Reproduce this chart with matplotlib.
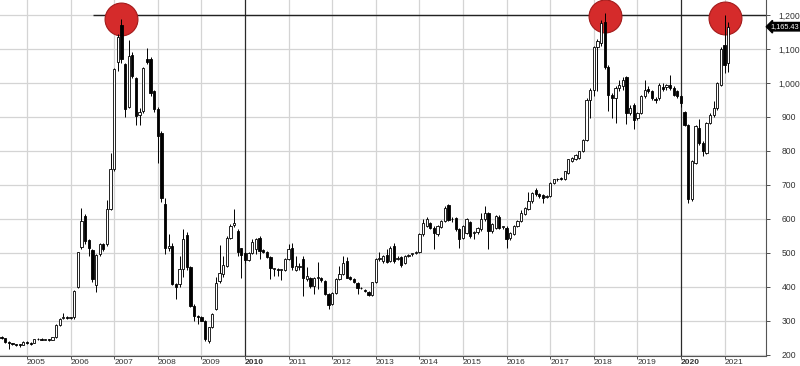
import numpy as np
import matplotlib.pyplot as plt

plt.rcParams['font.family'] = ['Liberation Sans', 'DejaVu Sans']

# Monthly candles from Jun 2004 to Feb 2021 (month index 0 = Jan 2005)
first_month = -7

opens = [
    250, 248, 237, 234, 232, 229, 230,                                  # 2004
    237, 235, 235, 245, 246, 244, 245, 243, 252, 287, 307, 310,        # 2005
    308, 310, 398, 516, 608, 538, 509, 406, 496, 527, 525, 630,        # 2006
    747, 1063, 1171, 1056, 929, 1083, 1013, 905, 916, 1070, 1070, 975, # 2007
    923, 853, 644, 515, 520, 408, 408, 452, 552, 457, 344, 315,        # 2008
    310, 300, 240, 281, 335, 418, 437, 462, 545, 582, 564, 513,        # 2009
    499, 479, 499, 510, 545, 508, 503, 489, 452, 452, 450, 450,        # 2010
    483, 515, 450, 457, 483, 423, 427, 403, 425, 427, 418, 379,        # 2011
    349, 383, 423, 437, 476, 429, 423, 411, 395, 390, 385, 376,        # 2012
    413, 481, 476, 493, 476, 520, 481, 489, 471, 491, 495, 499,        # 2013
    501, 555, 579, 589, 574, 555, 577, 594, 640, 600, 603, 569,        # 2014
    545, 559, 591, 559, 560, 569, 598, 616, 564, 574, 606, 576,        # 2015
    574, 545, 555, 579, 594, 613, 628, 652, 685, 672, 670, 665,        # 2016
    667, 706, 716, 721, 716, 735, 770, 775, 779, 799, 833, 951,        # 2017
    980, 1107, 1117, 1180, 1048, 965, 955, 985, 990, 1017, 911, 936,   # 2018
    897, 911, 960, 982, 975, 952, 955, 988, 988, 995, 985, 975,        # 2019
    962, 913, 877, 657, 765, 867, 823, 794, 882, 907, 926, 995,        # 2020
    1112, 1058,                                                         # 2021
]
highs = [
    254, 250, 239, 236, 233, 231, 239,
    240, 237, 247, 249, 248, 247, 247, 253, 289, 308, 323, 313,
    312, 390, 503, 633, 615, 542, 512, 497, 528, 530, 656, 795,
    1045, 1145, 1188, 1060, 1125, 1090, 1016, 925, 1048, 1104, 1075, 980,
    928, 858, 662, 555, 530, 412, 491, 569, 560, 460, 348, 318,
    313, 302, 283, 323, 430, 522, 490, 550, 585, 630, 570, 515,
    502, 501, 540, 545, 548, 512, 506, 492, 456, 455, 453, 485,
    525, 528, 491, 470, 490, 457, 430, 428, 472, 430, 420, 383,
    385, 425, 460, 490, 488, 432, 425, 413, 398, 392, 387, 415,
    484, 501, 493, 511, 520, 528, 490, 492, 494, 495, 500, 505,
    557, 598, 605, 592, 578, 581, 597, 638, 643, 604, 606, 572,
    582, 603, 595, 563, 575, 616, 638, 620, 588, 611, 610, 580,
    578, 560, 582, 597, 625, 636, 679, 680, 690, 676, 672, 670,
    708, 718, 721, 724, 742, 777, 782, 791, 801, 836, 955, 985,
    1110, 1130, 1185, 1205, 1052, 970, 990, 1010, 1017, 1020, 935, 940,
    915, 963, 1009, 990, 978, 958, 1000, 1000, 998, 1024, 990, 980,
    965, 916, 880, 772, 875, 895, 828, 885, 910, 946, 1003, 1105,
    1200, 1180,
]
lows = [
    246, 235, 218, 229, 227, 222, 228,
    233, 228, 234, 243, 242, 242, 241, 242, 250, 285, 304, 305,
    305, 305, 395, 510, 525, 491, 415, 386, 492, 505, 520, 625,
    740, 1034, 1060, 900, 925, 1015, 875, 875, 910, 1055, 960, 915,
    765, 650, 496, 505, 405, 364, 400, 430, 450, 340, 300, 290,
    298, 240, 236, 278, 332, 410, 430, 458, 540, 575, 490, 425,
    470, 476, 496, 495, 481, 500, 485, 423, 432, 432, 420, 447,
    480, 450, 445, 450, 374, 418, 395, 378, 393, 415, 375, 335,
    345, 380, 420, 435, 425, 420, 410, 379, 392, 386, 373, 374,
    410, 475, 470, 470, 472, 470, 478, 458, 468, 488, 492, 496,
    498, 550, 575, 570, 511, 550, 574, 590, 594, 590, 565, 515,
    540, 555, 545, 540, 556, 565, 595, 511, 558, 570, 570, 570,
    515, 538, 552, 576, 590, 610, 625, 648, 668, 662, 648, 660,
    664, 703, 712, 713, 713, 732, 767, 772, 776, 796, 830, 897,
    960, 975, 1110, 1040, 916, 896, 882, 975, 980, 880, 905, 863,
    890, 908, 955, 970, 950, 940, 950, 975, 980, 980, 960, 955,
    930, 872, 648, 652, 760, 818, 785, 790, 878, 900, 920, 990,
    1030, 1031,
]
closes = [
    249, 237, 234, 232, 229, 228, 237,
    235, 233, 245, 246, 244, 245, 243, 252, 287, 306, 311, 308,
    310, 388, 501, 594, 535, 514, 423, 493, 525, 511, 630, 747,
    1041, 1136, 1070, 923, 1080, 1021, 904, 915, 1043, 1063, 970, 923,
    843, 660, 515, 521, 408, 398, 452, 540, 457, 344, 315, 310,
    300, 247, 281, 320, 411, 442, 464, 545, 579, 587, 503, 493,
    479, 499, 532, 542, 506, 503, 489, 454, 452, 450, 450, 483,
    510, 457, 462, 460, 427, 432, 403, 425, 427, 421, 379, 346,
    383, 423, 437, 471, 427, 423, 413, 395, 395, 388, 376, 413,
    481, 486, 491, 473, 515, 476, 486, 464, 491, 493, 499, 503,
    555, 589, 598, 574, 559, 579, 594, 633, 597, 598, 569, 542,
    579, 598, 550, 560, 572, 598, 618, 564, 584, 608, 574, 576,
    542, 557, 579, 594, 618, 633, 652, 677, 672, 667, 662, 667,
    706, 716, 718, 716, 740, 775, 779, 789, 799, 833, 951, 980,
    1107, 1122, 1176, 1048, 965, 955, 985, 995, 1009, 911, 926, 892,
    911, 960, 980, 975, 955, 949, 995, 982, 995, 985, 965, 960,
    940, 877, 657, 770, 872, 823, 799, 882, 907, 926, 1000, 1100,
    1053, 1165.43,
]

years = list(range(2005, 2022))
price_ticks = list(range(200, 1300, 100))
resistance = 1200
peak_months = [26, 159, 192]        # Mar 2007, Apr 2018, Jan 2021
peak_levels = [1188, 1197, 1192]
last_price = closes[-1]

o = np.array(opens, dtype=float)
h = np.array(highs, dtype=float)
l = np.array(lows, dtype=float)
c = np.array(closes, dtype=float)
t = np.arange(first_month, first_month + len(c))

fig = plt.figure(figsize=(8, 3.66), dpi=100)
ax = fig.add_axes([0, 0.028, 766 / 800, 0.972])
ax.set_xlim(-7.43, 203.4)
ax.set_ylim(197, 1244)

# grid
for p in price_ticks:
    ax.axhline(p, color='#d4d4d4', lw=0.9, zorder=0)
for y in years:
    m = (y - 2005) * 12
    if y in (2010, 2020):
        ax.axvline(m, color='#2a2a2a', lw=0.9, zorder=1)
    else:
        ax.axvline(m, color='#d4d4d4', lw=0.9, zorder=0)

ax.hlines(resistance, 18.2, 203.4, color='#222222', lw=1.0, zorder=2)

ax.scatter(peak_months, peak_levels, s=560, facecolor='#d52b2b',
           edgecolor='#a31a1a', linewidth=0.8, zorder=2)

# candles
up = c >= o
ax.vlines(t, l, h, color='black', lw=0.7, zorder=3)
body_bottom = np.minimum(o, c)
body_height = np.maximum(np.abs(c - o), 2.5)
ax.bar(t, body_height, bottom=body_bottom, width=0.62,
       color=np.where(up, 'white', 'black'), edgecolor='black',
       linewidth=0.6, zorder=4)

# axes styling
for side in ['top', 'left']:
    ax.spines[side].set_visible(False)
ax.spines['right'].set_color('#555555')
ax.spines['bottom'].set_color('#555555')
ax.spines['right'].set_linewidth(0.8)
ax.spines['bottom'].set_linewidth(0.8)

ax.yaxis.tick_right()
ax.set_yticks(price_ticks)
ax.set_yticklabels([f'{p:,}' for p in price_ticks])
ax.tick_params(axis='y', length=3, width=0.6, pad=13.5, labelsize=6.2,
               colors='#333333')
for lab in ax.get_yticklabels():
    lab.set_horizontalalignment('center')

ax.set_xticks([(y - 2005) * 12 for y in years])
ax.set_xticklabels([str(y) for y in years])
ax.tick_params(axis='x', length=2, width=0.6, pad=0.3, labelsize=6,
               colors='#333333')
for lab in ax.get_xticklabels():
    lab.set_horizontalalignment('left')
    if lab.get_text() in ('2010', '2020'):
        lab.set_fontweight('bold')

ax.text(1.006, last_price, f'{last_price:,.2f}', transform=ax.get_yaxis_transform(),
        ha='left', va='center', fontsize=5.3, color='white', clip_on=False,
        bbox=dict(boxstyle='larrow,pad=0.1', fc='black', ec='black'))

fig.savefig('out.png', dpi=100)
